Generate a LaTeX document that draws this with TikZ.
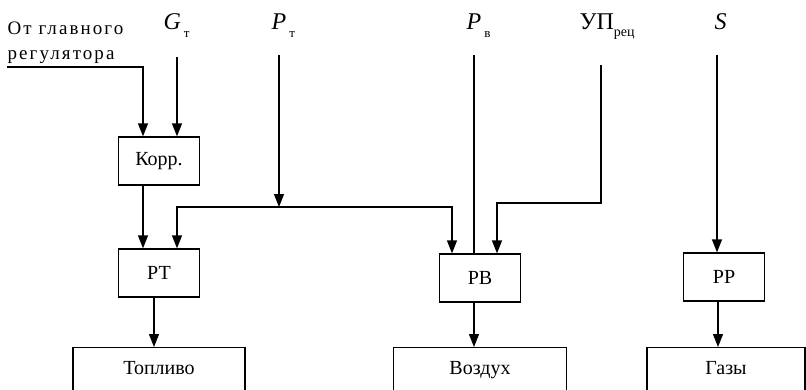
\documentclass[tikz,border=0pt]{standalone}
\usepackage{fontspec}
\setmainfont{Liberation Serif}
\usepackage{tikz}
\usetikzlibrary{arrows.meta,%
                positioning}

\begin{document}
\begin{tikzpicture}
  [x=1pt,y=-1pt,line width=1.2pt,>={Triangle[length=13pt,width=10pt]},
   block/.style={draw,minimum width=81pt,minimum height=48pt,inner sep=0pt,font=\fontsize{20}{22}\selectfont},
   outbox/.style={draw,anchor=north,inner sep=0pt,text height=27pt,text depth=34pt,font=\fontsize{20}{22}\selectfont},
   inlabel/.style={anchor=base west,inner sep=0pt,font=\fontsize{24}{26}\selectfont}]
  \useasboundingbox (0,0) rectangle (806,389);
  \clip (0,0) rectangle (806,389);
  % input labels
  \node[anchor=base west,inner sep=0pt,align=left,
        font=\fontsize{19}{25}\selectfont\addfontfeatures{LetterSpace=11}] (main) at (7,59) {От главного\\регулятора};
  \node[inlabel] (gt) at (163,29) {\textit{G}\hspace{3pt}\raisebox{-8pt}{\fontsize{13}{13}\selectfont т}};
  \node[inlabel] (pt) at (271,29) {\textit{P}\hspace{3pt}\raisebox{-8pt}{\fontsize{13}{13}\selectfont т}};
  \node[inlabel] (pv) at (466,29) {\textit{P}\hspace{3pt}\raisebox{-8pt}{\fontsize{13}{13}\selectfont в}};
  \node[inlabel] (up) at (579,29) {УП\raisebox{-7pt}{\fontsize{14}{14}\selectfont рец}};
  \node[inlabel] (s) at (714,29) {\textit{S}};
  % blocks
  \node[block] (korr) at (159,161) {Корр.};
  \node[block] (rt) at (159,273) {РТ};
  \node[block] (rv) at (480,278) {РВ};
  \node[block] (rp) at (724,277) {РР};
  \node[outbox,minimum width=172pt] (fuel) at (159,347) {Топливо};
  \node[outbox,minimum width=173pt] (air) at (480,347) {Воздух};
  \node[outbox,minimum width=158pt] (gas) at (726,347) {Газы};
  % free ends of the inputs
  \coordinate (main-end) at (7,67);
  \coordinate (gt-top) at (177,57);
  \coordinate (pt-top) at (279,55);
  \coordinate (pv-top) at (474,55);
  \coordinate (up-top) at (601,65);
  \coordinate (up-bend) at (601,203);
  \coordinate (s-top) at (717,55);
  \coordinate (split) at (279,207);
  % connectors
  \draw[->] (main-end) -| ([xshift=-16pt]korr.north);
  \draw[->] (gt-top) -- (gt-top |- korr.north);
  \draw[->] ([xshift=-16pt]korr.south) -- ([xshift=-16pt]rt.north);
  \draw[->] (pt-top) -- (split);
  \draw[->] (split) -| ([xshift=18pt]rt.north);
  \draw[->] (split) -| ([xshift=-28pt]rv.north);
  \draw (pv-top) -- (pv-top |- rv.north);
  \draw[->] (up-top) -- (up-bend) -| ([xshift=17pt]rv.north);
  \draw[->] (s-top) -- (s-top |- rp.north);
  \foreach \from/\to/\dx in {rt/fuel/-5,rv/air/-6,rp/gas/-6}
    \draw[->] ([xshift=\dx pt]\from.south) -- ([xshift=\dx pt]\from.south |- \to.north);
\end{tikzpicture}
\end{document}
